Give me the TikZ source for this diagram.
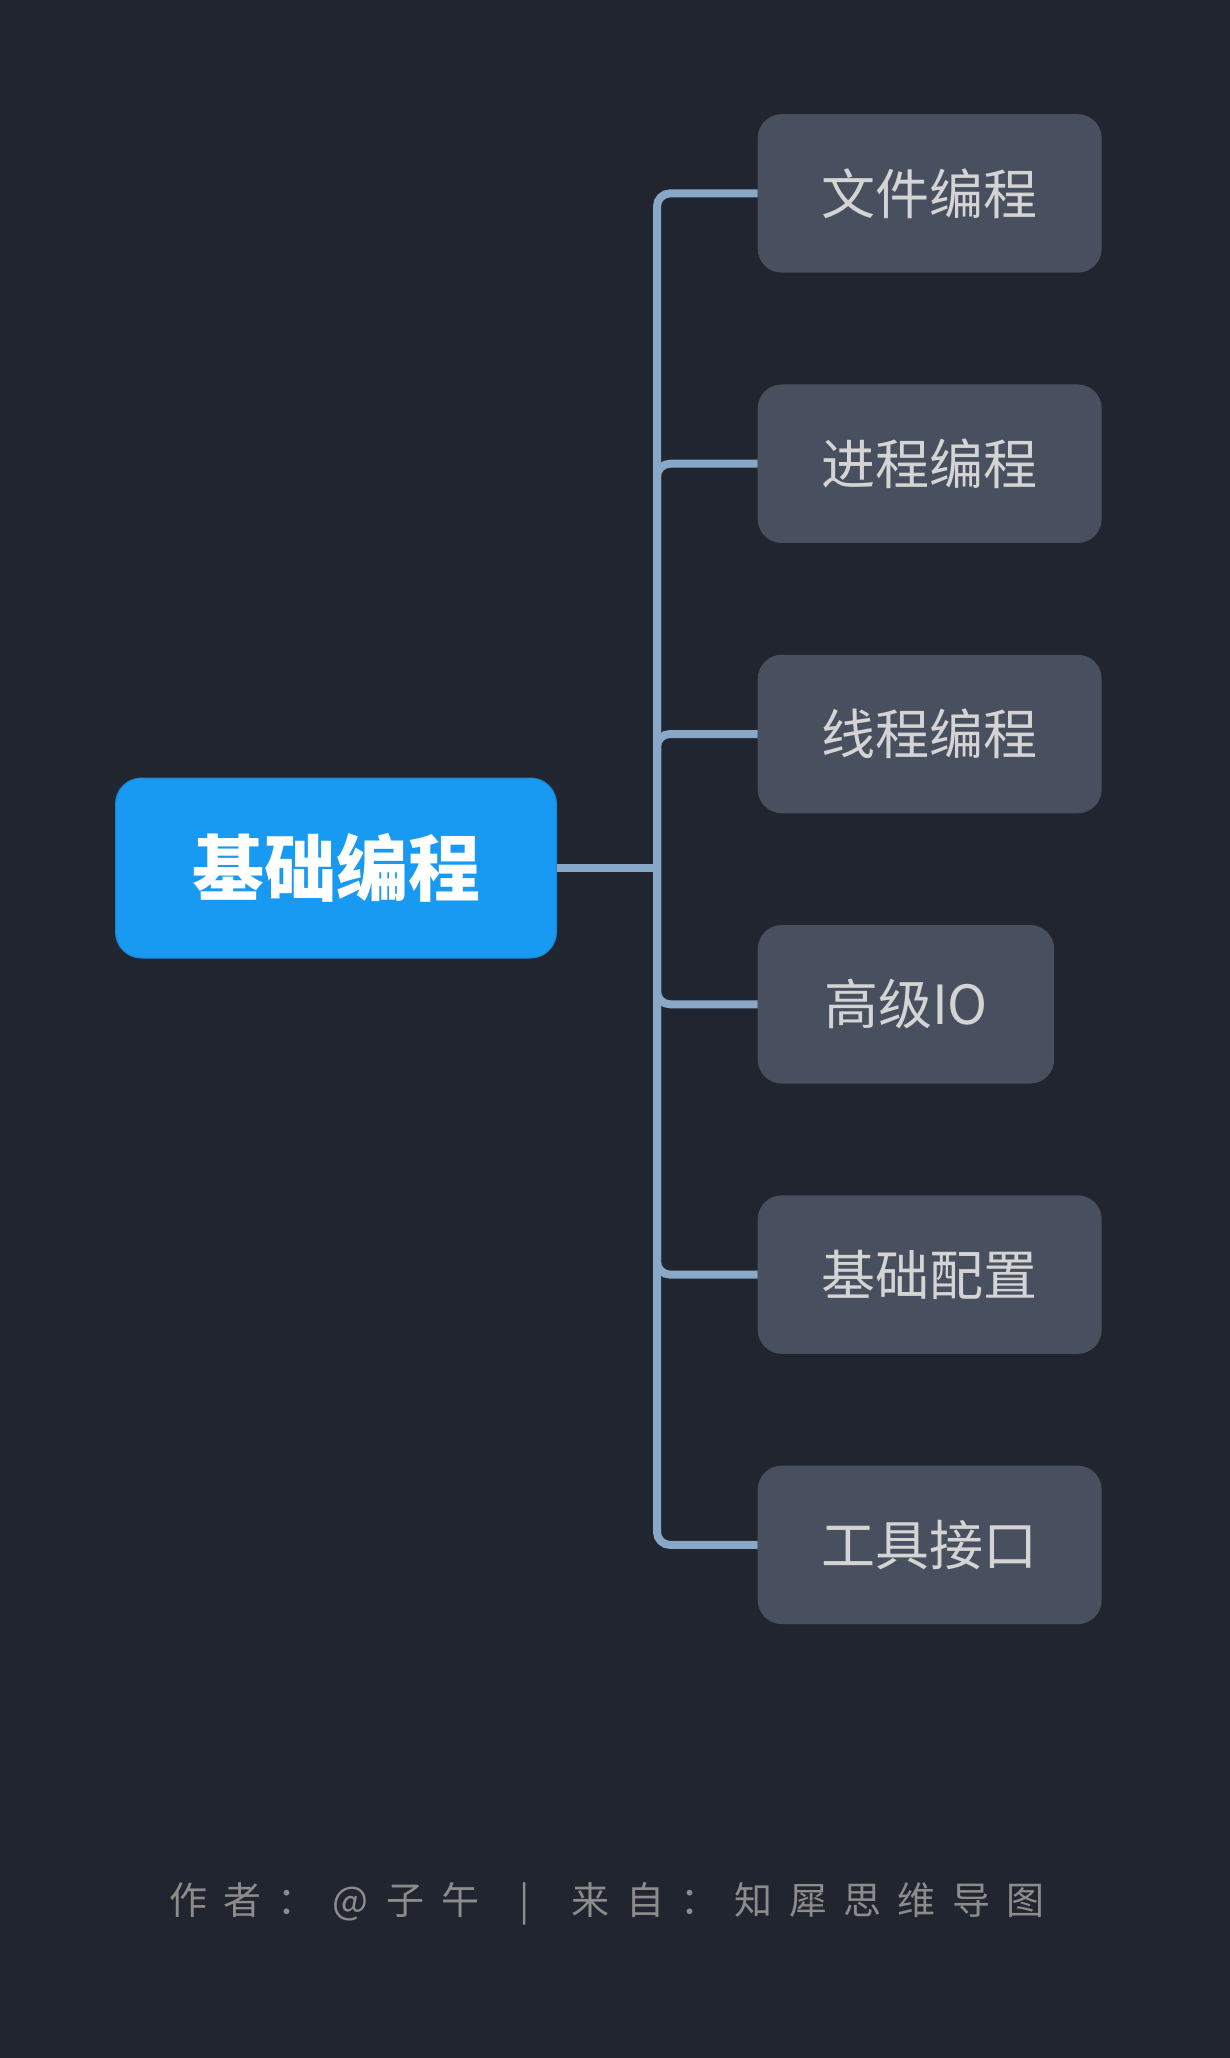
\documentclass[tikz,border=0pt]{standalone}
\usepackage{fontspec}
\newfontfamily\cjk{Noto Sans CJK SC}
\definecolor{bgc}{HTML}{21252F}
\definecolor{boxc}{HTML}{484F5E}
\definecolor{txtc}{HTML}{D4D4D4}
\definecolor{rootc}{HTML}{1899F2}
\definecolor{rootedge}{HTML}{1A86D2}
\definecolor{linec}{HTML}{89A8C8}
\definecolor{footc}{HTML}{8C8C8C}
\newcommand\fcell[1]{\makebox[54.4pt][l]{#1}}
\begin{document}
\begin{tikzpicture}[x=1pt,y=-1pt,
  childbox/.style={fill=boxc, rounded corners=24pt, text=txtc,
    font=\cjk\fontsize{54}{60}\selectfont, minimum height=158.5pt,
    inner xsep=64pt, inner ysep=0pt, anchor=west},
  rootbox/.style={fill=rootc, draw=rootedge, line width=1pt, rounded corners=26pt,
    text=white, font=\cjk\bfseries\fontsize{72}{80}\selectfont,
    minimum width=441pt, minimum height=180pt, inner sep=0pt},
  conn/.style={draw=linec, line width=8pt, rounded corners=13pt},
  foottext/.style={font=\cjk\fontsize{38}{44}\selectfont, text=footc, inner sep=0pt, anchor=west}]
\fill[bgc] (0,0) rectangle (1230,2058);
\useasboundingbox (0,0) rectangle (1230,2058);
\coordinate (hub) at (657,868);
\node[rootbox] (root) at (336,868) {基础编程};
\node[childbox] (c1) at (757.5,193.4) {文件编程};
\node[childbox] (c2) at (757.5,463.7) {进程编程};
\node[childbox] (c3) at (757.5,734.0) {线程编程};
\node[childbox, minimum width=296.5pt] (c4) at (757.5,1004.3) {高级IO};
\node[childbox] (c5) at (757.5,1274.6) {基础配置};
\node[childbox] (c6) at (757.5,1544.9) {工具接口};
\draw[conn] (root.east) -- (hub);
\foreach \n in {c1,c2,c3,c4,c5,c6} \draw[conn] (hub) |- (\n.west);
\node[foottext] (foot) at (169,1904) {\fcell{作}\fcell{者}\fcell{：}\fcell{@}\fcell{子}\fcell{午}\hspace{25pt}\makebox[9pt]{|}\hspace{42pt}\fcell{来}\fcell{自}\fcell{：}\fcell{知}\fcell{犀}\fcell{思}\fcell{维}\fcell{导}\fcell{图}};
\end{tikzpicture}
\end{document}
